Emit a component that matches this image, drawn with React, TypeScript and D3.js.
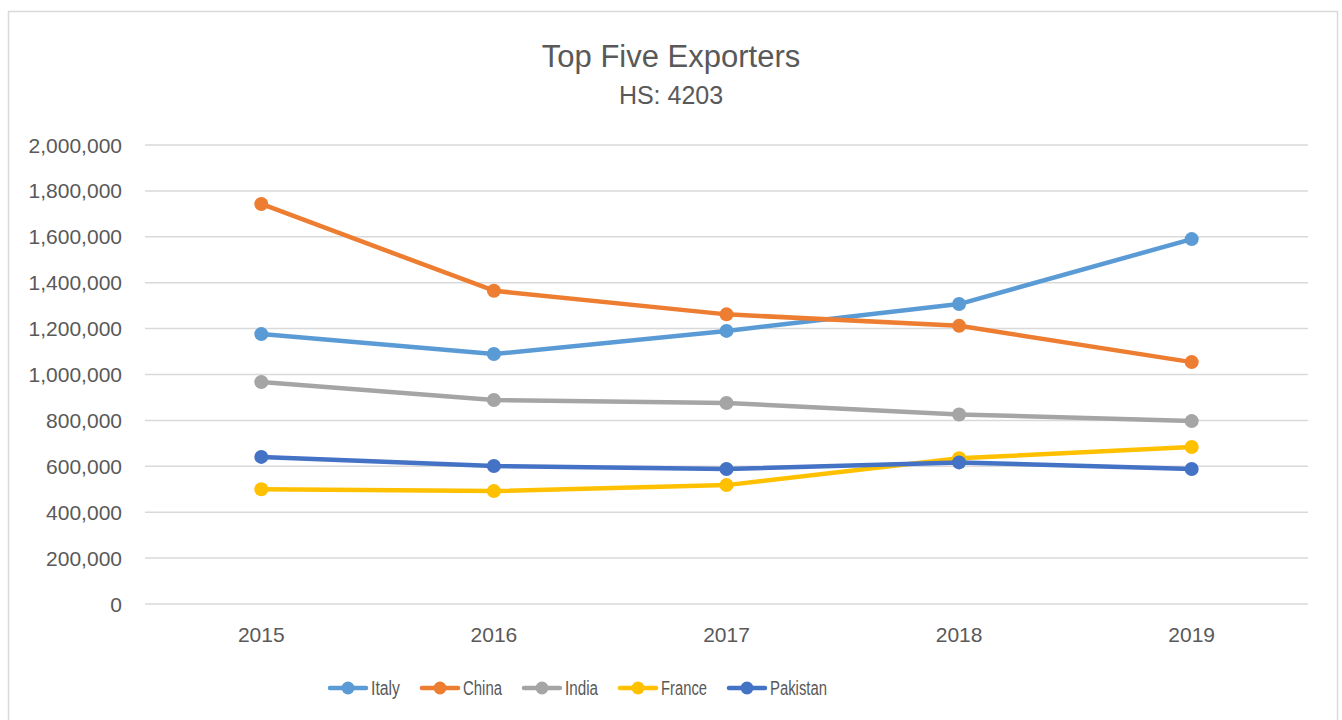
import React, { useEffect, useRef } from 'react';
import * as d3 from 'd3';

// Data
const years = ['2015', '2016', '2017', '2018', '2019'];
const italy = [1176000, 1089000, 1190000, 1307000, 1590000];
const china = [1743000, 1365000, 1262000, 1212000, 1054000];
const india = [967000, 889000, 876000, 826000, 797000];
const france = [500000, 492000, 518000, 635000, 684000];
const pakistan = [641000, 601000, 588000, 617000, 588000];
const yTicks = [0, 200000, 400000, 600000, 800000, 1000000, 1200000, 1400000, 1600000, 1800000, 2000000];

const series = [
  { name: 'Italy', values: italy, color: '#5B9BD5' },
  { name: 'China', values: china, color: '#ED7D31' },
  { name: 'India', values: india, color: '#A5A5A5' },
  { name: 'France', values: france, color: '#FFC000' },
  { name: 'Pakistan', values: pakistan, color: '#4472C4' },
];

// legend labels are drawn condensed in the original
const legendTextWidths = [29, 39, 33, 46, 57];

export default function App() {
  const ref = useRef<SVGSVGElement>(null);

  useEffect(() => {
    document.body.style.margin = '0';
    if (!ref.current) return;
    const svg = d3.select(ref.current);
    svg.selectAll('*').remove();

    const width = 1342;
    const height = 720;
    const font = "'Liberation Sans', Arial, sans-serif";
    const textColor = '#595959';

    const plot = { left: 145, right: 1308, top: 145, bottom: 604 };

    // chart border
    svg.append('rect')
      .attr('x', 8.5)
      .attr('y', 11.5)
      .attr('width', 1329)
      .attr('height', height)
      .attr('fill', '#fff')
      .attr('stroke', '#D9D9D9')
      .attr('stroke-width', 1.5);

    const x = d3.scaleBand<string>()
      .domain(years)
      .range([plot.left, plot.right]);

    const y = d3.scaleLinear()
      .domain([0, 2000000])
      .range([plot.bottom, plot.top]);

    // gridlines
    svg.append('g')
      .selectAll('line')
      .data(yTicks)
      .enter()
      .append('line')
      .attr('x1', plot.left)
      .attr('x2', plot.right)
      .attr('y1', d => y(d))
      .attr('y2', d => y(d))
      .attr('stroke', '#D9D9D9')
      .attr('stroke-width', 1.5);

    // y labels
    const fmt = d3.format(',');
    svg.append('g')
      .selectAll('text')
      .data(yTicks)
      .enter()
      .append('text')
      .attr('x', 122)
      .attr('y', d => y(d))
      .attr('dy', '0.36em')
      .attr('text-anchor', 'end')
      .attr('font-family', font)
      .attr('font-size', 21)
      .attr('fill', textColor)
      .text(d => fmt(d));

    // x labels
    svg.append('g')
      .selectAll('text')
      .data(years)
      .enter()
      .append('text')
      .attr('x', d => (x(d) || 0) + x.bandwidth() / 2)
      .attr('y', 642)
      .attr('text-anchor', 'middle')
      .attr('font-family', font)
      .attr('font-size', 21)
      .attr('fill', textColor)
      .text(d => d);

    // title
    svg.append('text')
      .attr('x', 671)
      .attr('y', 67)
      .attr('text-anchor', 'middle')
      .attr('font-family', font)
      .attr('font-size', 31)
      .attr('fill', textColor)
      .text('Top Five Exporters');

    svg.append('text')
      .attr('x', 671)
      .attr('y', 104)
      .attr('text-anchor', 'middle')
      .attr('font-family', font)
      .attr('font-size', 25)
      .attr('fill', textColor)
      .text('HS: 4203');

    // lines
    const line = d3.line<number>()
      .x((_, i) => (x(years[i]) || 0) + x.bandwidth() / 2)
      .y(d => y(d));

    series.forEach(s => {
      svg.append('path')
        .datum(s.values)
        .attr('fill', 'none')
        .attr('stroke', s.color)
        .attr('stroke-width', 4.5)
        .attr('stroke-linejoin', 'round')
        .attr('stroke-linecap', 'round')
        .attr('d', line);

      svg.append('g')
        .selectAll('circle')
        .data(s.values)
        .enter()
        .append('circle')
        .attr('cx', (_, i) => (x(years[i]) || 0) + x.bandwidth() / 2)
        .attr('cy', d => y(d))
        .attr('r', 7)
        .attr('fill', s.color);
    });

    // legend
    let lx = 328;
    const ly = 688;
    series.forEach((s, i) => {
      const g = svg.append('g');
      g.append('line')
        .attr('x1', lx + 2)
        .attr('x2', lx + 38)
        .attr('y1', ly)
        .attr('y2', ly)
        .attr('stroke', s.color)
        .attr('stroke-width', 4.5)
        .attr('stroke-linecap', 'round');
      g.append('circle')
        .attr('cx', lx + 20)
        .attr('cy', ly)
        .attr('r', 6.5)
        .attr('fill', s.color);
      g.append('text')
        .attr('x', lx + 43)
        .attr('y', ly + 7)
        .attr('font-family', font)
        .attr('font-size', 20)
        .attr('fill', textColor)
        .attr('textLength', legendTextWidths[i])
        .attr('lengthAdjust', 'spacingAndGlyphs')
        .text(s.name);
      lx += 43 + legendTextWidths[i] + 20;
    });
  }, []);

  return <svg ref={ref} width={1342} height={720} style={{ display: 'block' }} />;
}
